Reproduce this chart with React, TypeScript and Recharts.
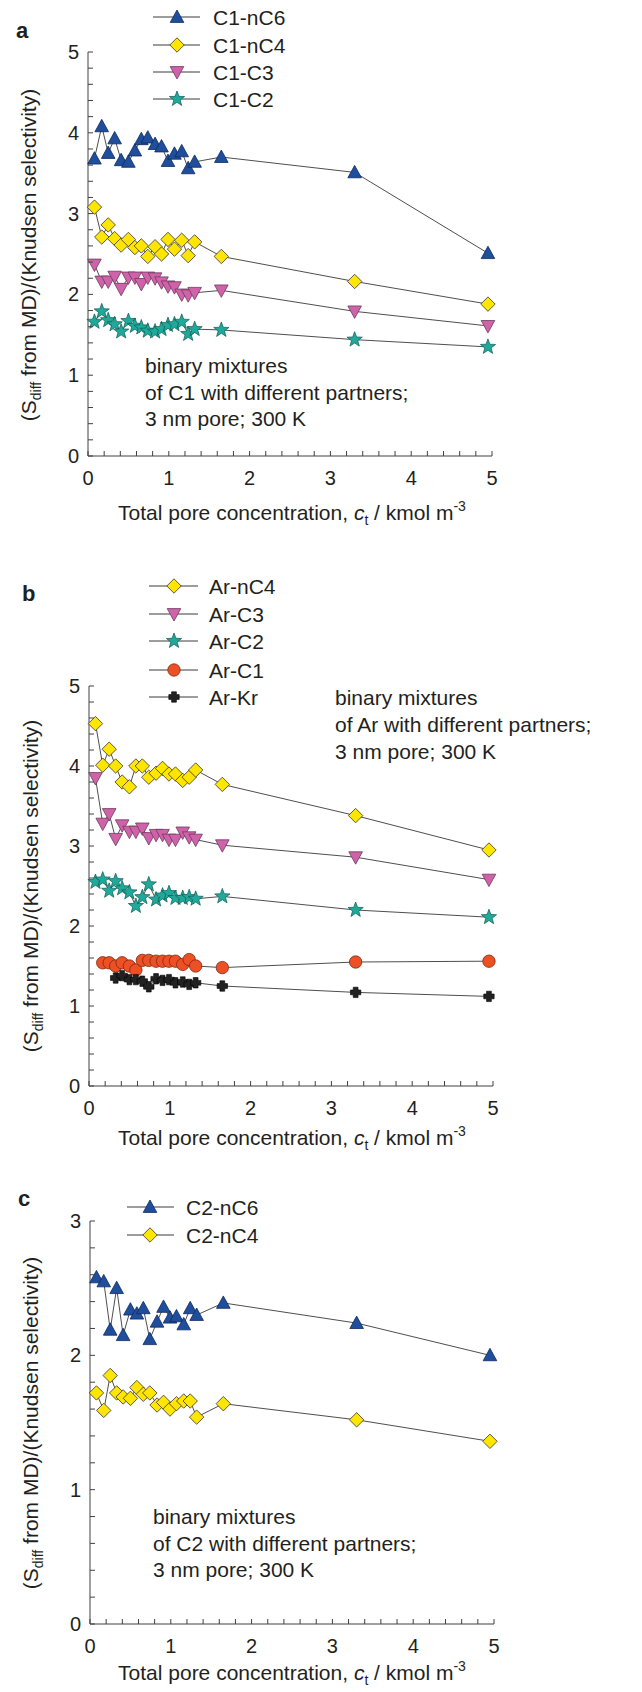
import { LineChart, Line, XAxis, YAxis, Legend } from 'recharts';

const FONT = "'Liberation Sans', Arial, Helvetica, sans-serif";
const INK = '#231f20';
const AXIS = '#404040';
const LINK = '#3a3a3a';

// total pore concentration c_t, kmol m^-3 (same loadings in every panel)
const ct = [0.08, 0.17, 0.25, 0.33, 0.41, 0.5, 0.58, 0.66, 0.74, 0.83, 0.91, 0.99, 1.07, 1.16, 1.24, 1.32, 1.65, 3.3, 4.95];

// panel a: C1 with partners
const c1nC6 = [3.68, 4.08, 3.75, 3.93, 3.66, 3.64, 3.78, 3.92, 3.94, 3.86, 3.83, 3.65, 3.74, 3.77, 3.56, 3.64, 3.7, 3.51, 2.51];
const c1nC4 = [3.08, 2.71, 2.86, 2.69, 2.61, 2.68, 2.58, 2.6, 2.47, 2.59, 2.5, 2.68, 2.56, 2.67, 2.48, 2.65, 2.47, 2.16, 1.88];
const c1C3 = [2.37, 2.16, 2.16, 2.22, 2.07, 2.21, 2.21, 2.13, 2.21, 2.2, 2.15, 2.1, 2.09, 2.0, 1.99, 2.02, 2.05, 1.79, 1.61];
const c1C2 = [1.66, 1.79, 1.68, 1.63, 1.54, 1.67, 1.61, 1.59, 1.55, 1.54, 1.57, 1.62, 1.63, 1.66, 1.51, 1.57, 1.56, 1.44, 1.35];

// panel b: Ar with partners
const arNC4 = [4.53, 4.01, 4.21, 4.0, 3.8, 3.74, 4.0, 4.0, 3.86, 3.91, 3.97, 3.9, 3.9, 3.82, 3.86, 3.95, 3.77, 3.38, 2.95];
const arC3 = [3.85, 3.28, 3.4, 3.09, 3.26, 3.18, 3.18, 3.22, 3.1, 3.14, 3.14, 3.08, 3.08, 3.17, 3.11, 3.08, 3.01, 2.86, 2.58];
const arC2 = [2.55, 2.58, 2.44, 2.56, 2.47, 2.42, 2.25, 2.36, 2.52, 2.33, 2.38, 2.41, 2.35, 2.35, 2.36, 2.34, 2.37, 2.2, 2.11];
const arC1 = [null, 1.54, 1.54, 1.5, 1.54, 1.5, 1.45, 1.57, 1.57, 1.56, 1.56, 1.56, 1.56, 1.52, 1.58, 1.5, 1.48, 1.55, 1.56];
const arKr = [null, null, null, 1.35, 1.38, 1.33, 1.33, 1.31, 1.24, 1.34, 1.32, 1.33, 1.29, 1.3, 1.27, 1.29, 1.25, 1.17, 1.12];

// panel c: C2 with partners
const c2nC6 = [2.58, 2.55, 2.19, 2.5, 2.15, 2.34, 2.31, 2.35, 2.12, 2.25, 2.36, 2.28, 2.29, 2.23, 2.35, 2.3, 2.39, 2.24, 2.0];
const c2nC4 = [1.72, 1.59, 1.85, 1.72, 1.69, 1.68, 1.76, 1.71, 1.72, 1.63, 1.65, 1.6, 1.64, 1.66, 1.66, 1.54, 1.64, 1.52, 1.36];

const xTicks = [0, 0.2, 0.4, 0.6, 0.8, 1, 1.2, 1.4, 1.6, 1.8, 2, 2.2, 2.4, 2.6, 2.8, 3, 3.2, 3.4, 3.6, 3.8, 4, 4.2, 4.4, 4.6, 4.8, 5];
const yTicks5 = xTicks;
const yTicks3 = [0, 0.2, 0.4, 0.6, 0.8, 1, 1.2, 1.4, 1.6, 1.8, 2, 2.2, 2.4, 2.6, 2.8, 3];

type Kind = 'triUp' | 'diamond' | 'triDown' | 'star' | 'circle' | 'plus';

const rowsA = ct.map((x, i) => ({ x, s0: c1nC6[i], s1: c1nC4[i], s2: c1C3[i], s3: c1C2[i] }));
const rowsB = ct.map((x, i) => ({ x, s0: arNC4[i], s1: arC3[i], s2: arC2[i], s3: arC1[i], s4: arKr[i] }));
const rowsC = ct.map((x, i) => ({ x, s0: c2nC6[i], s1: c2nC4[i] }));

function Marker({ kind, cx, cy }: { kind: Kind; cx: number; cy: number }) {
  switch (kind) {
    case 'triUp':
      return <path d={`M${cx},${cy - 7} L${cx + 6.8},${cy + 5.4} L${cx - 6.8},${cy + 5.4} Z`} fill="#1f4e9c" stroke="#0f2a5a" strokeWidth={0.8} />;
    case 'triDown':
      return <path d={`M${cx - 6.8},${cy - 5.4} L${cx + 6.8},${cy - 5.4} L${cx},${cy + 7} Z`} fill="#d062aa" stroke="#6b3a5c" strokeWidth={0.8} />;
    case 'diamond':
      return <path d={`M${cx},${cy - 7.2} L${cx + 7.2},${cy} L${cx},${cy + 7.2} L${cx - 7.2},${cy} Z`} fill="#ffe600" stroke="#333" strokeWidth={0.8} />;
    case 'circle':
      return <circle cx={cx} cy={cy} r={6.2} fill="#ee5026" stroke="#7a2a12" strokeWidth={0.8} />;
    case 'plus': {
      const a = 5.2, b = 2.4;
      return (
        <path
          d={`M${cx - b},${cy - a} H${cx + b} V${cy - b} H${cx + a} V${cy + b} H${cx + b} V${cy + a} H${cx - b} V${cy + b} H${cx - a} V${cy - b} H${cx - b} Z`}
          fill="#222" stroke="#000" strokeWidth={0.6}
        />
      );
    }
    case 'star': {
      const pts: string[] = [];
      for (let k = 0; k < 10; k++) {
        const r = k % 2 === 0 ? 8 : 3.3;
        const ang = -Math.PI / 2 + (k * Math.PI) / 5;
        pts.push(`${(cx + r * Math.cos(ang)).toFixed(2)},${(cy + r * Math.sin(ang)).toFixed(2)}`);
      }
      return <polygon points={pts.join(' ')} fill="#1ea99b" stroke="#0d5a52" strokeWidth={0.7} />;
    }
  }
  return null;
}

const dotFor = (kind: Kind) => (p: any) => {
  if (p.cx == null || p.cy == null || p.value == null) return <g key={`${p.dataKey}-${p.index}`} />;
  return (
    <g key={`${p.dataKey}-${p.index}`}>
      <Marker kind={kind} cx={p.cx} cy={p.cy} />
    </g>
  );
};

const isMajor = (v: number) => Math.abs(v - Math.round(v)) < 1e-6;

const YTick = (props: any) => {
  const { x, y, payload } = props;
  return (
    <g>
      <line x1={x} x2={x + 5} y1={y} y2={y} stroke={AXIS} strokeWidth={1} />
      {isMajor(payload.value) && (
        <text x={x - 9} y={y + 7} textAnchor="end" fontSize={20} fill={INK} fontFamily={FONT}>
          {Math.round(payload.value)}
        </text>
      )}
    </g>
  );
};

const XTick = (props: any) => {
  const { x, y, payload } = props;
  return (
    <g>
      <line x1={x} x2={x} y1={y} y2={y - 5} stroke={AXIS} strokeWidth={1} />
      {isMajor(payload.value) && (
        <text x={x} y={y + 29} textAnchor="middle" fontSize={20} fill={INK} fontFamily={FONT}>
          {Math.round(payload.value)}
        </text>
      )}
    </g>
  );
};

interface SeriesDef {
  key: string;
  name: string;
  kind: Kind;
}

interface PanelProps {
  top: number;
  height: number;
  rows: any[];
  series: SeriesDef[];
  yMax: number;
  yTicks: number[];
  plot: { x0: number; x5: number; yTop: number; yBottom: number };
  legend: { x1: number; x2: number; mx: number; tx: number; rows: number[] };
  letter: { t: string; x: number; y: number };
  note: { x: number; ys: number[]; lines: string[] };
  yTitle: { x: number; y: number };
  xTitle: { x: number; y: number };
}

const YAW = 50;
const XAH = 40;

function LegendBox({ series, lg }: { series: SeriesDef[]; lg: PanelProps['legend'] }) {
  const oy = lg.rows[0] - 16;
  return (
    <svg width={170} height={lg.rows[lg.rows.length - 1] - oy + 16} style={{ display: 'block', overflow: 'visible' }}>
      {series.map((s, i) => {
        const y = lg.rows[i] - oy;
        return (
          <g key={s.key}>
            <line x1={0} x2={lg.x2 - lg.x1} y1={y} y2={y} stroke={LINK} strokeWidth={1} />
            <Marker kind={s.kind} cx={lg.mx - lg.x1} cy={y} />
            <text x={lg.tx - lg.x1} y={y + 7.5} fontSize={21} fill={INK} fontFamily={FONT}>
              {s.name}
            </text>
          </g>
        );
      })}
    </svg>
  );
}

function Panel(p: PanelProps) {
  const margin = {
    top: p.plot.yTop - p.top,
    left: p.plot.x0 - YAW,
    right: 642 - p.plot.x5,
    bottom: p.top + p.height - p.plot.yBottom - XAH,
  };
  const t = (y: number) => y - p.top;
  return (
    <div style={{ position: 'absolute', left: 0, top: p.top, width: 642, height: p.height }}>
      <LineChart width={642} height={p.height} data={p.rows} margin={margin}>
        <XAxis
          type="number"
          dataKey="x"
          domain={[0, 5]}
          ticks={xTicks}
          interval={0}
          height={XAH}
          tickLine={false}
          tickSize={0}
          tickMargin={0}
          tick={<XTick />}
          axisLine={{ stroke: AXIS, strokeWidth: 1 }}
        />
        <YAxis
          type="number"
          domain={[0, p.yMax]}
          ticks={p.yTicks}
          interval={0}
          width={YAW}
          tickLine={false}
          tickSize={0}
          tickMargin={0}
          tick={<YTick />}
          axisLine={{ stroke: AXIS, strokeWidth: 1 }}
        />
        <Legend
          verticalAlign="middle"
          align="center"
          layout="horizontal"
          wrapperStyle={{ position: 'absolute', left: p.legend.x1, top: t(p.legend.rows[0] - 16), width: 170, margin: 0, padding: 0 }}
          content={() => <LegendBox series={p.series} lg={p.legend} />}
        />
        {p.series.map((s) => (
          <Line
            key={s.key}
            type="linear"
            dataKey={s.key}
            name={s.name}
            stroke={LINK}
            strokeWidth={0.9}
            dot={dotFor(s.kind)}
            activeDot={false}
            isAnimationActive={false}
          />
        ))}
      </LineChart>
      <svg
        width={642}
        height={p.height}
        style={{ position: 'absolute', left: 0, top: 0, pointerEvents: 'none' }}
        fontFamily={FONT}
        fill={INK}
      >
        <text x={p.letter.x} y={t(p.letter.y)} fontSize={22} fontWeight="bold">
          {p.letter.t}
        </text>
        {p.note.lines.map((ln, i) => (
          <text key={i} x={p.note.x} y={t(p.note.ys[i])} fontSize={21}>
            {ln}
          </text>
        ))}
        <text transform={`translate(${p.yTitle.x},${t(p.yTitle.y)}) rotate(-90)`} x={0} y={7} textAnchor="middle" fontSize={21}>
          (S<tspan dy={5} fontSize={14}>diff</tspan>
          <tspan dy={-5}> from MD)/(Knudsen selectivity)</tspan>
        </text>
        <text x={p.xTitle.x} y={t(p.xTitle.y)} textAnchor="middle" fontSize={21}>
          Total pore concentration, <tspan fontStyle="italic">c</tspan>
          <tspan dy={5} fontSize={14}>t</tspan>
          <tspan dy={-5}> / kmol m</tspan>
          <tspan dy={-9} fontSize={14}>-3</tspan>
        </text>
      </svg>
    </div>
  );
}

const seriesA: SeriesDef[] = [
  { key: 's0', name: 'C1-nC6', kind: 'triUp' },
  { key: 's1', name: 'C1-nC4', kind: 'diamond' },
  { key: 's2', name: 'C1-C3', kind: 'triDown' },
  { key: 's3', name: 'C1-C2', kind: 'star' },
];
const seriesB: SeriesDef[] = [
  { key: 's0', name: 'Ar-nC4', kind: 'diamond' },
  { key: 's1', name: 'Ar-C3', kind: 'triDown' },
  { key: 's2', name: 'Ar-C2', kind: 'star' },
  { key: 's3', name: 'Ar-C1', kind: 'circle' },
  { key: 's4', name: 'Ar-Kr', kind: 'plus' },
];
const seriesC: SeriesDef[] = [
  { key: 's0', name: 'C2-nC6', kind: 'triUp' },
  { key: 's1', name: 'C2-nC4', kind: 'diamond' },
];

export default function App() {
  return (
    <div style={{ position: 'absolute', left: 0, top: 0, width: 642, height: 1692, background: '#fff', fontFamily: FONT }}>
      <Panel
        top={0}
        height={540}
        rows={rowsA}
        series={seriesA}
        yMax={5}
        yTicks={yTicks5}
        plot={{ x0: 88, x5: 492, yTop: 52, yBottom: 456 }}
        legend={{ x1: 153, x2: 200, mx: 177, tx: 213, rows: [17, 45, 72, 99] }}
        letter={{ t: 'a', x: 16, y: 38 }}
        note={{ x: 145, ys: [373, 400, 426], lines: ['binary mixtures', 'of C1 with different partners;', '3 nm pore; 300 K'] }}
        yTitle={{ x: 29, y: 255 }}
        xTitle={{ x: 292, y: 520 }}
      />
      <Panel
        top={560}
        height={600}
        rows={rowsB}
        series={seriesB}
        yMax={5}
        yTicks={yTicks5}
        plot={{ x0: 89, x5: 493, yTop: 686, yBottom: 1086 }}
        legend={{ x1: 149, x2: 198, mx: 174, tx: 209, rows: [586, 614, 641, 670, 697] }}
        letter={{ t: 'b', x: 22, y: 601 }}
        note={{ x: 335, ys: [705, 732, 759], lines: ['binary mixtures', 'of Ar with different partners;', '3 nm pore; 300 K'] }}
        yTitle={{ x: 31, y: 886 }}
        xTitle={{ x: 292, y: 1145 }}
      />
      <Panel
        top={1170}
        height={522}
        rows={rowsC}
        series={seriesC}
        yMax={3}
        yTicks={yTicks3}
        plot={{ x0: 90, x5: 494, yTop: 1221, yBottom: 1624 }}
        legend={{ x1: 127, x2: 174, mx: 150, tx: 186, rows: [1207, 1235] }}
        letter={{ t: 'c', x: 18, y: 1206 }}
        note={{ x: 153, ys: [1524, 1551, 1577], lines: ['binary mixtures', 'of C2 with different partners;', '3 nm pore; 300 K'] }}
        yTitle={{ x: 31, y: 1423 }}
        xTitle={{ x: 292, y: 1680 }}
      />
    </div>
  );
}
